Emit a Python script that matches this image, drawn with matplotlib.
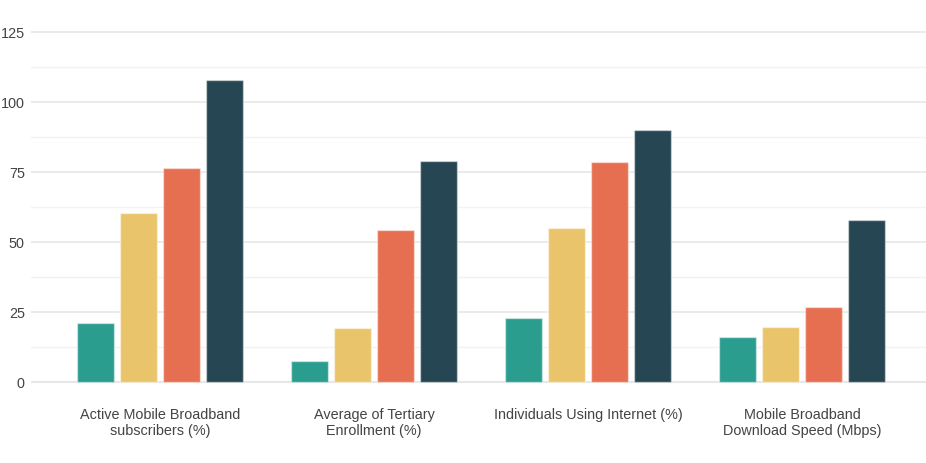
import numpy as np
from matplotlib import pyplot as plt
from matplotlib.ticker import MultipleLocator

categories = ['Active Mobile Broadband\nsubscribers (%)',
              'Average of Tertiary\nEnrollment (%)',
              'Individuals Using Internet (%)',
              'Mobile Broadband\nDownload Speed (Mbps)']
series_1 = [21.2, 7.5, 23.0, 15.9]
series_2 = [60.2, 19.2, 54.9, 19.5]
series_3 = [76.3, 54.2, 78.5, 26.9]
series_4 = [108.0, 78.8, 89.9, 57.7]
colors = ['#2a9d8f', '#e9c46a', '#e76f51', '#264653']

W, H = 926, 463
fig = plt.figure(figsize=(W / 100, H / 100), dpi=100)
plt.rcParams['font.family'] = ['Liberation Sans', 'DejaVu Sans']

# axes placed in pixels: y=0 at 382px, y=125 at 32px (2.8 px per unit)
ymin, ymax = -2, 127
px = 2.8
bottom_px = 382 + (0 - ymin) * px
top_px = 32 - (ymax - 125) * px
ax = fig.add_axes([31 / W, 1 - bottom_px / H, (W - 31) / W, (bottom_px - top_px) / H])

x = np.arange(len(categories))
step = 0.2
width = 0.174
for i, vals in enumerate([series_1, series_2, series_3, series_4]):
    ax.bar(x + (i - 1.5) * step, vals, width, color=colors[i],
           edgecolor=(1, 1, 1, 0.45), linewidth=1, zorder=3)

# center of first group at 160px, group spacing 214px
ax.set_xlim((31 - 160) / 214, (926 - 160) / 214)
ax.set_ylim(ymin, ymax)
ax.yaxis.set_major_locator(MultipleLocator(25))
ax.yaxis.set_minor_locator(MultipleLocator(12.5))
ax.grid(axis='y', which='major', color='#e8e8e8', linewidth=1.2, zorder=0)
ax.grid(axis='y', which='minor', color='#f2f2f2', linewidth=1, zorder=0)
ax.axhline(0, color='#e6e6e6', linewidth=1.5, zorder=1)

ax.set_xticks(x)
ax.set_xticklabels(categories, fontsize=10.4, color='#444444', linespacing=1.1)
ax.tick_params(axis='x', length=0, pad=15)
ax.tick_params(axis='y', which='both', length=0, pad=4.5, labelsize=10.4, labelcolor='#444444')
for s in ax.spines.values():
    s.set_visible(False)

fig.savefig('out.png', dpi=100)
